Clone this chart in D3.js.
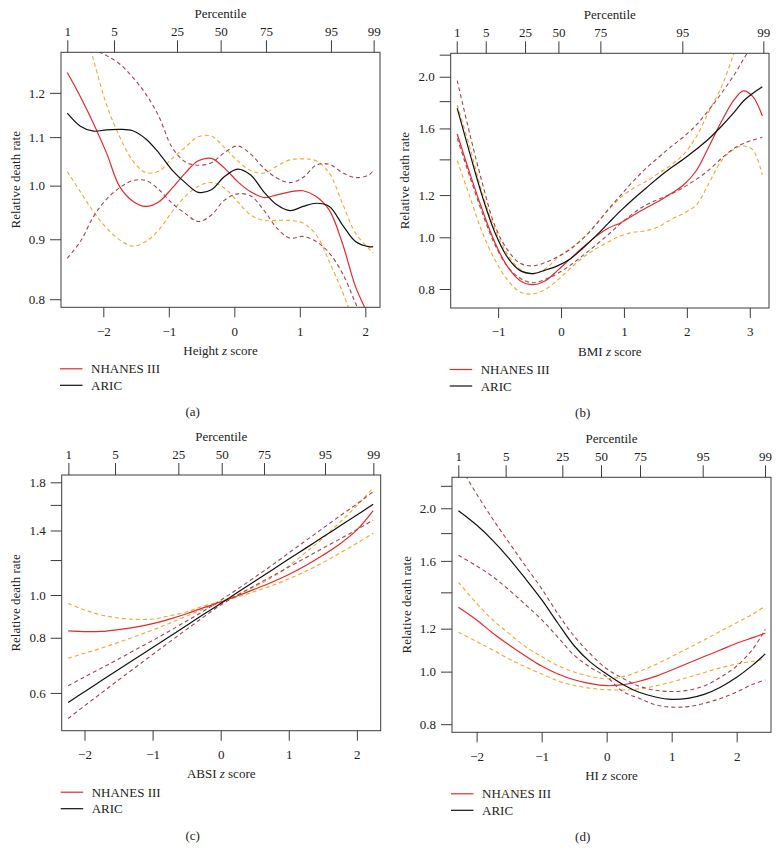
<!DOCTYPE html>
<html><head><meta charset="utf-8">
<script src="https://cdn.jsdelivr.net/npm/d3@7"></script>
<style>
body{margin:0;background:#fff}
svg text{font-family:"Liberation Serif","DejaVu Serif",serif;fill:#222}
</style>
</head><body><svg id="chart" width="780" height="860"></svg>
<script>
// ---------- shared labels ----------
const percentileLabels = ["1","5","25","50","75","95","99"];
const seriesNames = ["NHANES III","ARIC"];
const panelLetters = ["(a)","(b)","(c)","(d)"];
const xTitleWords = ["Height","BMI","ABSI","HI"];

// ---------- panel (a) Height ----------
const zA = [-2.55,-2.35,-2.15,-1.95,-1.75,-1.55,-1.35,-1.15,-0.95,-0.75,-0.55,-0.35,-0.15,0.05,0.25,0.45,0.65,0.85,1.05,1.25,1.45,1.65,1.85,2.05,2.12];
const nhanesA   = [1.249,1.191,1.130,1.066,0.998,0.970,0.960,0.969,0.995,1.025,1.050,1.055,1.035,1.008,0.988,0.977,0.982,0.988,0.990,0.979,0.953,0.893,0.820,0.773,0.748];
const nhanesLoA = [1.028,0.988,0.950,0.920,0.899,0.888,0.896,0.917,0.950,0.979,0.999,1.006,0.995,0.969,0.944,0.934,0.934,0.934,0.929,0.908,0.861,0.812,0.758,0.710,0.692];
const nhanesHiA = [1.488,1.394,1.280,1.172,1.101,1.050,1.026,1.029,1.055,1.078,1.101,1.102,1.078,1.050,1.030,1.025,1.039,1.052,1.054,1.050,1.025,0.966,0.911,0.884,0.876];
const aricA     = [1.153,1.124,1.113,1.116,1.117,1.114,1.096,1.066,1.031,1.006,0.987,0.992,1.018,1.033,1.021,0.988,0.963,0.952,0.960,0.966,0.960,0.926,0.896,0.887,0.887];
const aricLoA   = [0.867,0.896,0.941,0.974,0.996,1.010,1.010,0.992,0.966,0.947,0.932,0.944,0.972,0.984,0.980,0.953,0.920,0.902,0.905,0.896,0.876,0.842,0.794,0.748,0.734];
const aricHiA   = [1.340,1.323,1.307,1.291,1.270,1.237,1.197,1.145,1.078,1.048,1.041,1.046,1.067,1.081,1.064,1.035,1.015,1.006,1.016,1.041,1.043,1.026,1.016,1.021,1.030];
const pctZA = [-2.55,-1.837,-0.875,-0.209,0.483,1.475,2.127];
const xTicksA = [-2,-1,0,1,2];
const yTicksA = [0.8,0.9,1.0,1.1,1.2];
const yLabelsA = [0.8,0.9,1.0,1.1,1.2];

// ---------- panel (b) BMI ----------
const zB = [-1.65,-1.45,-1.25,-1.05,-0.85,-0.65,-0.45,-0.25,-0.05,0.15,0.35,0.55,0.75,0.95,1.15,1.35,1.55,1.75,1.95,2.15,2.35,2.55,2.75,2.9,3.05,3.2];
const nhanesB   = [1.562,1.318,1.125,0.977,0.881,0.829,0.815,0.829,0.868,0.912,0.958,1.003,1.040,1.065,1.100,1.135,1.168,1.208,1.255,1.333,1.479,1.648,1.809,1.881,1.835,1.688];
const nhanesLoB = [1.392,1.192,1.020,0.907,0.832,0.790,0.783,0.799,0.832,0.875,0.917,0.951,0.980,1.006,1.022,1.029,1.047,1.081,1.109,1.150,1.262,1.392,1.462,1.483,1.458,1.309];
const nhanesHiB = [1.770,1.475,1.209,1.035,0.929,0.871,0.854,0.873,0.917,0.954,0.996,1.055,1.125,1.188,1.236,1.272,1.318,1.366,1.431,1.544,1.720,1.916,2.213,2.480,2.785,3.125];
const aricB     = [1.745,1.437,1.192,1.020,0.917,0.866,0.855,0.868,0.885,0.912,0.955,1.005,1.062,1.122,1.180,1.236,1.295,1.350,1.402,1.462,1.530,1.615,1.715,1.801,1.862,1.916];
const aricLoB   = [1.533,1.299,1.109,0.968,0.881,0.838,0.822,0.834,0.856,0.887,0.925,0.966,1.012,1.062,1.109,1.150,1.178,1.206,1.241,1.284,1.337,1.406,1.468,1.500,1.522,1.540];
const aricHiB   = [1.967,1.562,1.262,1.050,0.947,0.894,0.884,0.897,0.920,0.950,0.995,1.055,1.128,1.200,1.275,1.347,1.412,1.479,1.544,1.624,1.733,1.862,2.015,2.156,2.310,2.480];
const pctZB = [-1.658,-1.197,-0.572,-0.042,0.625,1.928,3.216];
const xTicksB = [-1,0,1,2,3];
const yTicksB = [0.8,1.0,1.2,1.4,1.6,1.8,2.0,2.2];
const yLabelsB = [0.8,1.0,1.2,1.6,2.0];

// ---------- panel (c) ABSI ----------
const zC = [-2.24,-2.0,-1.75,-1.5,-1.25,-1.0,-0.75,-0.5,-0.25,0,0.25,0.5,0.75,1.0,1.25,1.5,1.75,2.0,2.24];
const nhanesC   = [0.829,0.826,0.827,0.835,0.846,0.861,0.882,0.907,0.936,0.964,0.996,1.031,1.069,1.113,1.166,1.230,1.305,1.404,1.553];
const nhanesLoC = [0.719,0.738,0.758,0.781,0.806,0.833,0.863,0.896,0.930,0.961,0.990,1.018,1.050,1.088,1.132,1.184,1.245,1.310,1.380];
const nhanesHiC = [0.957,0.925,0.901,0.887,0.881,0.882,0.897,0.916,0.944,0.966,1.003,1.045,1.095,1.163,1.249,1.344,1.461,1.594,1.751];
const aricC     = [0.571,0.604,0.640,0.678,0.718,0.760,0.805,0.853,0.904,0.957,1.014,1.074,1.138,1.206,1.277,1.353,1.433,1.518,1.605];
const aricLoC   = [0.525,0.561,0.600,0.642,0.686,0.733,0.783,0.836,0.892,0.949,1.000,1.050,1.102,1.157,1.215,1.276,1.339,1.406,1.479];
const aricHiC   = [0.623,0.652,0.683,0.716,0.752,0.789,0.829,0.873,0.920,0.973,1.032,1.097,1.167,1.245,1.328,1.416,1.510,1.608,1.715];
const pctZC = [-2.237,-1.552,-0.622,0.015,0.636,1.532,2.242];
const xTicksC = [-2,-1,0,1,2];
const yTicksC = [0.6,0.8,1.0,1.2,1.4,1.6,1.8];
const yLabelsC = [0.6,0.8,1.0,1.4,1.8];

// ---------- panel (d) HI ----------
const zD = [-2.28,-2.0,-1.75,-1.5,-1.25,-1.0,-0.75,-0.5,-0.25,0,0.25,0.5,0.75,1.0,1.25,1.5,1.75,2.0,2.25,2.44];
const nhanesD   = [1.314,1.245,1.177,1.120,1.069,1.024,0.990,0.966,0.950,0.942,0.946,0.960,0.980,1.007,1.036,1.066,1.096,1.128,1.155,1.177];
const nhanesLoD = [1.182,1.136,1.096,1.055,1.020,0.990,0.962,0.943,0.932,0.926,0.925,0.930,0.941,0.957,0.976,0.996,1.016,1.033,1.045,1.054];
const nhanesHiD = [1.461,1.336,1.245,1.175,1.112,1.066,1.026,0.998,0.980,0.970,0.979,1.001,1.030,1.066,1.104,1.144,1.187,1.231,1.277,1.321];
const aricD     = [1.980,1.863,1.744,1.616,1.484,1.357,1.228,1.116,1.041,0.990,0.947,0.916,0.898,0.889,0.893,0.908,0.936,0.976,1.029,1.078];
const aricLoD   = [1.638,1.566,1.496,1.414,1.329,1.247,1.157,1.072,1.018,0.978,0.919,0.893,0.869,0.860,0.862,0.874,0.892,0.917,0.948,0.965];
const aricHiD   = [2.420,2.125,1.909,1.728,1.566,1.422,1.278,1.162,1.078,1.012,0.972,0.940,0.924,0.919,0.924,0.941,0.976,1.024,1.101,1.197];
const pctZD = [-2.282,-1.554,-0.682,-0.087,0.513,1.477,2.436];
const xTicksD = [-2,-1,0,1,2];
const yTicksD = [0.8,1.0,1.2,1.4,1.6,1.8,2.0,2.2];
const yLabelsD = [0.8,1.0,1.2,1.6,2.0];

// ---------- styling / layout ----------
const COL_NH = "#e52a2a", COL_AR = "#111111", COL_NH_CI = "#f4a62a", COL_AR_CI = "#a3434f";
const FONT = 13;

const panels = [
  {id:"a", box:{x0:61,x1:380,y0:52.3,y1:307.3}, xDom:[-2.646,2.224], yDom:[0.7874,1.2995],
   z:zA, nh:nhanesA, nhLo:nhanesLoA, nhHi:nhanesHiA, ar:aricA, arLo:aricLoA, arHi:aricHiA,
   pct:pctZA, xt:xTicksA, yt:yTicksA, yl:yLabelsA, title:xTitleWords[0], letter:panelLetters[0], cx:192.7},
  {id:"b", box:{x0:450.7,x1:769,y0:53.3,y1:308}, xDom:[-1.754,3.306], yDom:[0.737,2.213],
   z:zB, nh:nhanesB, nhLo:nhanesLoB, nhHi:nhanesHiB, ar:aricB, arLo:aricLoB, arHi:aricHiB,
   pct:pctZB, xt:xTicksB, yt:yTicksB, yl:yLabelsB, title:xTitleWords[1], letter:panelLetters[1], cx:582.7},
  {id:"c", box:{x0:61.7,x1:380.7,y0:475,y1:730.7}, xDom:[-2.335,2.35], yDom:[0.4927,1.870],
   z:zC, nh:nhanesC, nhLo:nhanesLoC, nhHi:nhanesHiC, ar:aricC, arLo:aricLoC, arHi:aricHiC,
   pct:pctZC, xt:xTicksC, yt:yTicksC, yl:yLabelsC, title:xTitleWords[2], letter:panelLetters[2], cx:192.7},
  {id:"d", box:{x0:452,x1:771,y0:477.3,y1:732.3}, xDom:[-2.379,2.528], yDom:[0.773,2.281],
   z:zD, nh:nhanesD, nhLo:nhanesLoD, nhHi:nhanesHiD, ar:aricD, arLo:aricLoD, arHi:aricHiD,
   pct:pctZD, xt:xTicksD, yt:yTicksD, yl:yLabelsD, title:xTitleWords[3], letter:panelLetters[3], cx:582.7}
];

const svg = d3.select("#chart");
const fmtMinus = d => (d < 0 ? "\u2212" + Math.abs(d) : String(d));

function styleAxis(g){
  g.attr("font-family", null).attr("font-size", null);
  g.select(".domain").remove();
  g.selectAll(".tick line").attr("stroke", "#3c3c3c").attr("stroke-width", 1);
  g.selectAll(".tick text").attr("fill", "#222").style("font-size", FONT + "px");
}

panels.forEach(p => {
  const b = p.box;
  const x = d3.scaleLinear().domain(p.xDom).range([b.x0, b.x1]);
  const y = d3.scaleLog().domain(p.yDom).range([b.y1, b.y0]);
  const g = svg.append("g");

  const clipId = "clip-" + p.id;
  svg.append("clipPath").attr("id", clipId).append("rect")
    .attr("x", b.x0).attr("y", b.y0).attr("width", b.x1 - b.x0).attr("height", b.y1 - b.y0);

  const line = d3.line()
    .x((d, i) => x(p.z[i]))
    .y(d => y(d))
    .curve(d3.curveCatmullRom.alpha(0.5));

  const plot = g.append("g").attr("clip-path", "url(#" + clipId + ")");
  const series = [
    {v:p.nhLo, c:COL_NH_CI, dash:"4,3", w:1.1},
    {v:p.nhHi, c:COL_NH_CI, dash:"4,3", w:1.1},
    {v:p.arLo, c:COL_AR_CI, dash:"4,3", w:1.1},
    {v:p.arHi, c:COL_AR_CI, dash:"4,3", w:1.1},
    {v:p.nh, c:COL_NH, dash:null, w:1.2},
    {v:p.ar, c:COL_AR, dash:null, w:1.2}
  ];
  series.forEach(s => {
    plot.append("path").datum(s.v)
      .attr("d", line)
      .attr("fill", "none")
      .attr("stroke", s.c)
      .attr("stroke-width", s.w)
      .attr("stroke-dasharray", s.dash);
  });

  // frame
  g.append("rect").attr("x", b.x0).attr("y", b.y0)
    .attr("width", b.x1 - b.x0).attr("height", b.y1 - b.y0)
    .attr("fill", "none").attr("stroke", "#3c3c3c").attr("stroke-width", 1);

  // bottom axis
  g.append("g").attr("transform", "translate(0," + b.y1 + ")")
    .call(d3.axisBottom(x).tickValues(p.xt).tickSize(10).tickPadding(9).tickFormat(fmtMinus))
    .call(styleAxis);

  // top percentile axis
  g.append("g").attr("transform", "translate(0," + b.y0 + ")")
    .call(d3.axisTop(x).tickValues(p.pct).tickSize(12).tickPadding(4)
      .tickFormat((d, i) => percentileLabels[i]))
    .call(styleAxis);

  // left axis (log)
  g.append("g").attr("transform", "translate(" + b.x0 + ",0)")
    .call(d3.axisLeft(y).tickValues(p.yt).tickSize(11).tickPadding(5)
      .tickFormat(d => p.yl.some(v => Math.abs(v - d) < 1e-9) ? d.toFixed(1) : ""))
    .call(styleAxis);

  const cxFrame = (b.x0 + b.x1) / 2;
  // Percentile title
  g.append("text").attr("x", cxFrame).attr("y", b.y0 - 34.5)
    .attr("text-anchor", "middle").style("font-size", FONT + "px").text("Percentile");

  // x title with italic z
  const xt = g.append("text").attr("x", cxFrame).attr("y", b.y1 + 47.5)
    .attr("text-anchor", "middle").style("font-size", FONT + "px");
  xt.append("tspan").text(p.title + " ");
  xt.append("tspan").attr("font-style", "italic").text("z");
  xt.append("tspan").text(" score");

  // y title
  const cy = (b.y0 + b.y1) / 2;
  g.append("text").attr("transform", "translate(" + (b.x0 - 41.5) + "," + cy + ") rotate(-90)")
    .attr("text-anchor", "middle").style("font-size", FONT + "px").text("Relative death rate");

  // legend
  const legY = [b.y1 + 61.5, b.y1 + 78];
  const legCol = [COL_NH, COL_AR];
  seriesNames.forEach((nm, i) => {
    g.append("line").attr("x1", b.x0 - 1).attr("x2", b.x0 + 21.5)
      .attr("y1", legY[i]).attr("y2", legY[i])
      .attr("stroke", legCol[i]).attr("stroke-width", 1.2);
    g.append("text").attr("x", b.x0 + 30).attr("y", legY[i] + 4.5)
      .style("font-size", FONT + "px").text(nm);
  });

  // panel letter
  g.append("text").attr("x", p.cx).attr("y", b.y1 + 109)
    .attr("text-anchor", "middle").style("font-size", FONT + "px").text(p.letter);
});
</script>
</body></html>
